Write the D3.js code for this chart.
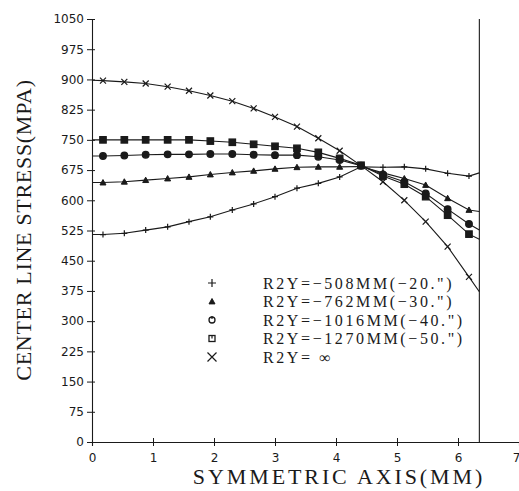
<!DOCTYPE html>
<html>
<head>
<meta charset="utf-8">
<script src="https://cdn.jsdelivr.net/npm/d3@7"></script>
<style>
  body { margin: 0; background: #fff; }
  svg { display: block; }
</style>
</head>
<body>
<div id="chart"></div>
<script>
// positions along the symmetric axis (mm)
const xs = [0, 0.18, 0.53, 0.88, 1.24, 1.59, 1.94, 2.30, 2.65, 3.00, 3.36, 3.71, 4.06, 4.41, 4.77, 5.12, 5.47, 5.83, 6.18, 6.35];

// center line stress (MPa) per R2Y
const r2y508  = [515, 515, 518, 526, 534, 547, 559, 576, 591, 609, 630, 642, 658, 683, 682, 683, 678, 667, 660, 668];
const r2y762  = [644, 644, 646, 650, 654, 658, 664, 669, 673, 678, 682, 683, 683, 684, 668, 654, 638, 605, 576, 572];
const r2y1016 = [710, 710, 711, 713, 714, 714, 715, 715, 713, 712, 712, 708, 700, 686, 664, 646, 617, 578, 541, 526];
const r2y1270 = [750, 750, 750, 750, 750, 750, 747, 744, 739, 734, 729, 719, 704, 687, 660, 640, 609, 563, 516, 503];
const r2yInf  = [898, 897, 894, 890, 882, 872, 860, 846, 828, 807, 783, 754, 723, 686, 646, 600, 547, 485, 410, 373];

const legendLabels = [
  'R2Y=\u2212508MM(\u221220.")',
  'R2Y=\u2212762MM(\u221230.")',
  'R2Y=\u22121016MM(\u221240.")',
  'R2Y=\u22121270MM(\u221250.")',
  'R2Y= \u221e'
];
const markerTypes = ['plus', 'tri', 'circle', 'square', 'cross'];
const seriesValues = [r2y508, r2y762, r2y1016, r2y1270, r2yInf];

const yTicks = d3.range(0, 1051, 75);
const xTicks = [0, 1, 2, 3, 4, 5, 6, 7];
const edgeX = 6.35; // right boundary line

const width = 519, height = 491;
const margin = { top: 19, right: 0, bottom: 49, left: 92 };
const ink = '#1a1a1a';

const svg = d3.select('#chart').append('svg')
  .attr('width', width)
  .attr('height', height);

const x = d3.scaleLinear().domain([0, 7]).range([margin.left, width - margin.right]);
const y = d3.scaleLinear().domain([0, 1050]).range([height - margin.bottom, margin.top]);

// Axes (ticks cross the axis lines)
const yAxis = d3.axisLeft(y).tickValues(yTicks).tickSize(5).tickPadding(3).tickFormat(d3.format('d'));
const xAxis = d3.axisBottom(x).tickValues(xTicks).tickSize(4).tickPadding(7).tickFormat(d3.format('d'));

const gy = svg.append('g').attr('transform', `translate(${margin.left},0)`).call(yAxis);
const gx = svg.append('g').attr('transform', `translate(0,${height - margin.bottom})`).call(xAxis);

[gy, gx].forEach(g => {
  g.select('.domain').attr('stroke', ink).attr('stroke-width', 1.1);
  g.selectAll('.tick line').attr('stroke', ink);
  g.selectAll('.tick text')
    .attr('fill', ink)
    .style('font-family', '"DejaVu Sans", sans-serif')
    .style('font-size', '12px');
});
gy.selectAll('.tick line').attr('x2', 3).attr('x1', -5);
gx.selectAll('.tick line').attr('y1', -4).attr('y2', 4);
// last x label sits at the window edge: keep it inside
gx.selectAll('.tick text').filter(d => d === 7).attr('text-anchor', 'end').attr('dx', 1);

// boundary line
svg.append('line')
  .attr('x1', x(edgeX)).attr('x2', x(edgeX))
  .attr('y1', y(1050)).attr('y2', y(0))
  .attr('stroke', ink).attr('stroke-width', 1.1);

// Marker drawing helper
function drawMarker(g, type, cx, cy, s, filled) {
  if (type === 'plus') {
    g.append('path').attr('d', `M${cx - s},${cy}H${cx + s}M${cx},${cy - s}V${cy + s}`)
      .attr('stroke', ink).attr('stroke-width', 1.2).attr('fill', 'none');
  } else if (type === 'cross') {
    g.append('path').attr('d', `M${cx - s},${cy - s}L${cx + s},${cy + s}M${cx - s},${cy + s}L${cx + s},${cy - s}`)
      .attr('stroke', ink).attr('stroke-width', 1.2).attr('fill', 'none');
  } else if (type === 'tri') {
    g.append('path').attr('d', `M${cx},${cy - s}L${cx + s},${cy + s * 0.8}L${cx - s},${cy + s * 0.8}Z`)
      .attr('stroke', ink).attr('stroke-width', 1).attr('fill', ink);
  } else if (type === 'circle') {
    g.append('circle').attr('cx', cx).attr('cy', cy).attr('r', s)
      .attr('stroke', ink).attr('stroke-width', 1.3).attr('fill', filled ? ink : '#fff');
    if (!filled) g.append('line').attr('x1', cx).attr('x2', cx).attr('y1', cy - s - 1).attr('y2', cy - 1)
      .attr('stroke', ink).attr('stroke-width', 1.2);
  } else if (type === 'square') {
    g.append('rect').attr('x', cx - s).attr('y', cy - s).attr('width', 2 * s).attr('height', 2 * s)
      .attr('stroke', ink).attr('stroke-width', 1.3).attr('fill', filled ? ink : '#fff');
    if (!filled) g.append('line').attr('x1', cx).attr('x2', cx).attr('y1', cy - s).attr('y2', cy)
      .attr('stroke', ink).attr('stroke-width', 1.2);
  }
}

const line = d3.line()
  .x(d => x(d.x))
  .y(d => y(d.v));

const markerSize = { plus: 3, cross: 3, tri: 3, circle: 3.3, square: 3.2 };

seriesValues.forEach((vals, si) => {
  const pts = xs.map((xv, i) => ({ x: xv, v: vals[i] }));
  const g = svg.append('g');
  g.append('path')
    .datum(pts)
    .attr('d', line)
    .attr('fill', 'none')
    .attr('stroke', ink)
    .attr('stroke-width', 1.1);
  // markers on inner points only (not at the axis or the boundary line)
  pts.slice(1, -1).forEach(p => {
    drawMarker(g, markerTypes[si], x(p.x), y(p.v), markerSize[markerTypes[si]], true);
  });
});

// Legend
const legend = svg.append('g');
const legSymX = 212, legTextX = 263, legY0 = 283, legStep = 18.5;
legendLabels.forEach((lab, i) => {
  const cy = legY0 + i * legStep;
  const t = markerTypes[i];
  drawMarker(legend, t, legSymX, cy, t === 'cross' ? 4.5 : (t === 'plus' ? 4 : 3), false);
  legend.append('text')
    .attr('x', legTextX)
    .attr('y', cy)
    .attr('dy', '0.35em')
    .attr('fill', ink)
    .style('font-family', '"Liberation Serif", serif')
    .style('font-size', '16px')
    .style('letter-spacing', '2.6px')
    .text(lab);
});

// Axis titles
svg.append('text')
  .attr('x', 339)
  .attr('y', 484)
  .attr('text-anchor', 'middle')
  .attr('fill', ink)
  .style('font-family', '"Liberation Serif", serif')
  .style('font-size', '22px')
  .style('letter-spacing', '2.9px')
  .text('SYMMETRIC AXIS(MM)');

svg.append('text')
  .attr('transform', `translate(31,230) rotate(-90)`)
  .attr('text-anchor', 'middle')
  .attr('fill', ink)
  .style('font-family', '"Liberation Serif", serif')
  .style('font-size', '22px')
  .style('letter-spacing', '0.7px')
  .text('CENTER LINE STRESS(MPA)');
</script>
</body>
</html>
